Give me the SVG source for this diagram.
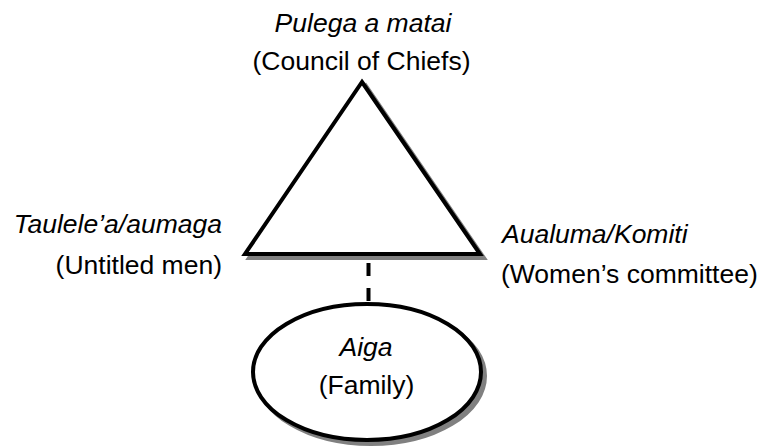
<svg xmlns="http://www.w3.org/2000/svg" width="761" height="446" viewBox="0 0 761 446">
<style>
.lbl{font-family:"Liberation Sans",Arial,sans-serif;font-size:26.5px;fill:#000}
.it{font-style:italic}
.shadow{fill:#808080;stroke:#808080;stroke-width:4}
.shape{fill:#fff;stroke:#000;stroke-width:4;stroke-linejoin:miter}
.conn{stroke:#000;stroke-width:4;stroke-dasharray:13 12;fill:none}
</style>
<rect width="761" height="446" fill="#fff"/>
<g id="connectors">
<line class="conn" x1="368.5" y1="263" x2="368.5" y2="303"/>
</g>
<g id="council">
<polygon class="shadow" points="366,86 484,258 249,258"/>
<polygon class="shape" points="362,82 480,254 245,254"/>
<text class="lbl it" x="363" y="32" text-anchor="middle">Pulega a matai</text>
<text class="lbl" x="361.5" y="70" text-anchor="middle">(Council of Chiefs)</text>
</g>
<g id="untitled-men">
<text class="lbl it" x="222" y="233" text-anchor="end">Taulele’a/aumaga</text>
<text class="lbl" x="222" y="274" text-anchor="end">(Untitled men)</text>
</g>
<g id="womens-committee">
<text class="lbl it" x="502" y="243">Aualuma/Komiti</text>
<text class="lbl" x="501" y="283">(Women’s committee)</text>
</g>
<g id="family">
<ellipse class="shadow" cx="371" cy="376" rx="114" ry="68"/>
<ellipse class="shape" cx="367" cy="372" rx="114" ry="68"/>
<text class="lbl it" x="366" y="356" text-anchor="middle">Aiga</text>
<text class="lbl" x="366.5" y="394" text-anchor="middle">(Family)</text>
</g>
</svg>
